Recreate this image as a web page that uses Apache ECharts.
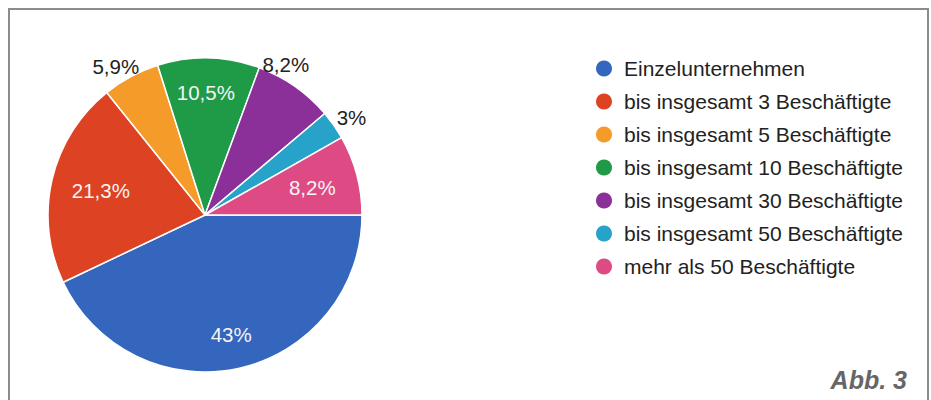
<!DOCTYPE html>
<html>
<head>
<meta charset="utf-8">
<script src="https://cdn.jsdelivr.net/npm/echarts@6/dist/echarts.min.js"></script>
<style>
  html, body { margin: 0; padding: 0; background: #fff; }
  #frame { position: absolute; left: 8px; top: 8px; width: 917px; height: 400px; border: 2px solid #8c8c8c; border-bottom: none; }
  #chart { position: absolute; left: 0; top: 0; width: 931px; height: 400px; }
</style>
</head>
<body>
<div id="frame"></div>
<div id="chart"></div>
<script>
const categories = [
  'Einzelunternehmen',
  'bis insgesamt 3 Beschäftigte',
  'bis insgesamt 5 Beschäftigte',
  'bis insgesamt 10 Beschäftigte',
  'bis insgesamt 30 Beschäftigte',
  'bis insgesamt 50 Beschäftigte',
  'mehr als 50 Beschäftigte'
]
const shares = [43, 21.3, 5.9, 10.5, 8.2, 3, 8.2]
// which slices carry their label inside (true) or outside (false)
const labelInside = [true, true, false, true, false, false, true]
// small nudges so labels sit where the original put them
const labelOffsets = [[0, 3], [12, 2], [16, -5], [-2, -3], [-41, -17], [-7, -4], [-8, 3]]
const colors = ['#3566bd', '#dd4222', '#f59b2a', '#1f9a46', '#8b3098', '#27a2c9', '#de4b84']

const chart = echarts.init(document.getElementById('chart'), null, { renderer: 'svg' })

const fmt = (p) => String(p.value).replace('.', ',') + '%'
const font = '"Liberation Sans", Arial, sans-serif'

const center = [205, 215]
const R = 157

chart.setOption({
  animation: false,
  color: colors,
  legend: {
    orient: 'vertical',
    left: 596,
    top: 58,
    padding: 0,
    icon: 'circle',
    itemWidth: 16,
    itemHeight: 16,
    itemGap: 12,
    itemStyle: { borderWidth: 0 },
    data: categories,
    textStyle: {
      fontFamily: font,
      fontSize: 21,
      color: '#222',
      padding: [0, 0, 0, 7]
    }
  },
  graphic: [{
    type: 'text',
    right: 24,
    top: 367,
    style: {
      text: 'Abb. 3',
      fontFamily: font,
      fontSize: 25,
      fontWeight: 'bold',
      fontStyle: 'italic',
      fill: '#666'
    }
  }],
  series: [
    {
      name: 'main',
      type: 'pie',
      center: center,
      radius: [0, R],
      startAngle: 0,
      clockwise: true,
      avoidLabelOverlap: false,
      itemStyle: { borderColor: '#fff', borderWidth: 1.5 },
      labelLine: { show: false, length: 6, length2: 0 },
      data: categories.map((name, i) => ({
        name: name,
        value: shares[i],
        label: labelInside[i]
          ? { show: false }
          : { show: true, position: 'outside', formatter: fmt, offset: labelOffsets[i], fontFamily: font, fontSize: 20.5, color: '#222' }
      }))
    },
    {
      name: 'inner labels',
      type: 'pie',
      center: center,
      radius: [R * 0.48, R],
      startAngle: 0,
      clockwise: true,
      silent: true,
      avoidLabelOverlap: false,
      itemStyle: { color: 'rgba(0,0,0,0)', borderWidth: 0 },
      emphasis: { disabled: true },
      data: categories.map((name, i) => ({
        name: name,
        value: shares[i],
        label: labelInside[i]
          ? { show: true, position: 'inside', formatter: fmt, offset: labelOffsets[i], fontFamily: font, fontSize: 20.5, color: '#f4f4f4' }
          : { show: false }
      }))
    }
  ]
})
</script>
</body>
</html>
